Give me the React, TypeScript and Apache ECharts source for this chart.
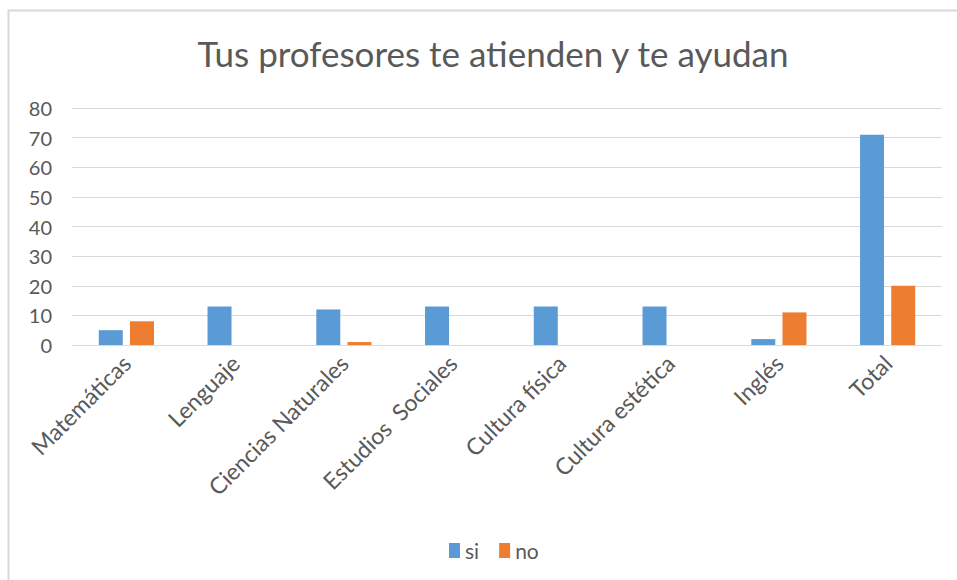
import React, { useEffect, useRef } from "react";
import * as echarts from "echarts";

const categories = [
  "Matemáticas",
  "Lenguaje",
  "Ciencias Naturales",
  "Estudios  Sociales",
  "Cultura física",
  "Cultura estética",
  "Inglés",
  "Total",
];
const siValues = [5, 13, 12, 13, 13, 13, 2, 71];
const noValues = [8, 0, 1, 0, 0, 0, 11, 20];
const seriesNames = ["si", "no"];
const titleText = "Tus profesores te atienden y te ayudan";

const FONT = "Lato, 'Open Sans', sans-serif";
const TEXT_COLOR = "#595959";

export default function App() {
  const ref = useRef<HTMLDivElement>(null);
  useEffect(() => {
    if (!ref.current) return;
    const chart = echarts.init(ref.current, null, { renderer: "svg" });
    chart.setOption({
      animation: false,
      backgroundColor: "#ffffff",
      textStyle: { fontFamily: FONT },
      title: {
        text: titleText,
        left: 488,
        textAlign: "center",
        top: 30,
        textStyle: { fontFamily: FONT, fontSize: 35, fontWeight: "normal", color: TEXT_COLOR },
      },
      graphic: [
        {
          type: "rect",
          shape: { x: 8.5, y: 10.5, width: 1000, height: 1000 },
          style: { fill: "none", stroke: "#d9d9d9", lineWidth: 2 },
          silent: true,
        },
      ],
      legend: {
        data: seriesNames,
        left: 444,
        top: 535,
        itemWidth: 11,
        itemHeight: 15,
        itemGap: 20,
        icon: "rect",
        textStyle: { fontFamily: FONT, fontSize: 21, color: TEXT_COLOR },
      },
      grid: { left: 72, right: 15, top: 108, bottom: 235, containLabel: false },
      xAxis: {
        type: "category",
        data: categories,
        axisLine: { lineStyle: { color: "#d9d9d9", width: 1 } },
        axisTick: { show: false },
        axisLabel: {
          rotate: 45,
          interval: 0,
          margin: 14,
          fontFamily: FONT,
          fontSize: 23,
          color: TEXT_COLOR,
        },
      },
      yAxis: {
        type: "value",
        min: 0,
        max: 80,
        interval: 10,
        axisLine: { show: false },
        axisTick: { show: false },
        splitLine: { lineStyle: { color: "#d9d9d9", width: 1 } },
        axisLabel: { fontFamily: FONT, fontSize: 20, color: TEXT_COLOR, margin: 20 },
      },
      series: [
        {
          name: seriesNames[0],
          type: "bar",
          data: siValues,
          barWidth: 24,
          barGap: "30%",
          itemStyle: { color: "#5b9bd5" },
        },
        {
          name: seriesNames[1],
          type: "bar",
          data: noValues,
          barWidth: 24,
          itemStyle: { color: "#ed7d31" },
        },
      ],
    });
    return () => chart.dispose();
  }, []);
  return (
    <div
      ref={ref}
      style={{ position: "fixed", left: 0, top: 0, width: 957, height: 580, background: "#fff" }}
    />
  );
}
